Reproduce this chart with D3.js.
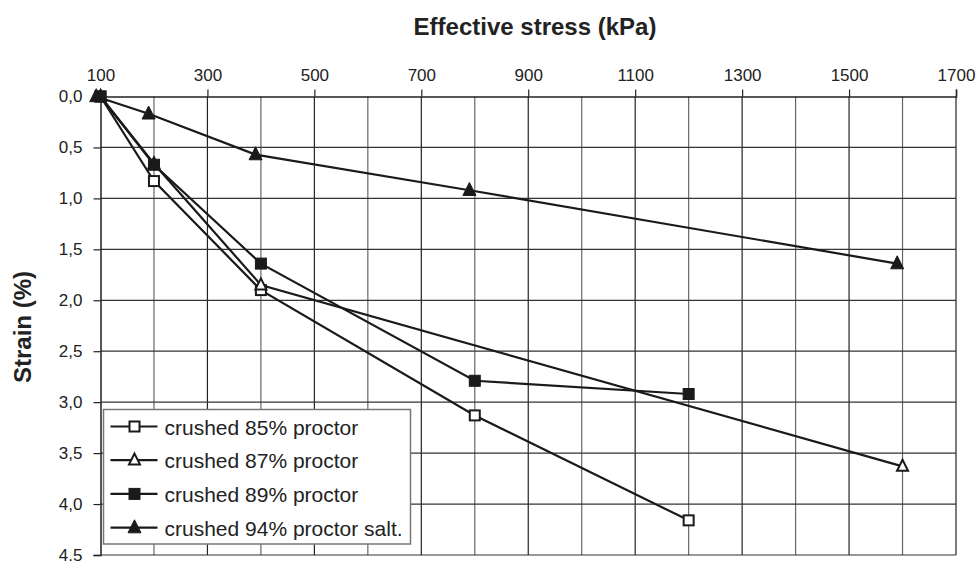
<!DOCTYPE html>
<html>
<head>
<meta charset="utf-8">
<script src="https://cdn.jsdelivr.net/npm/d3@7"></script>
<style>
  body { margin: 0; background: #fff; }
  svg { font-family: 'Liberation Sans', Arial, sans-serif; }
</style>
</head>
<body>
<div id="chart"></div>
<script>
// stress ticks (top axis) and strain ticks (left axis)
const stressTicks = [100, 300, 500, 700, 900, 1100, 1300, 1500, 1700];
const strainTicks = [0, 0.5, 1, 1.5, 2, 2.5, 3, 3.5, 4, 4.5];

const seriesNames = ['crushed 85% proctor', 'crushed 87% proctor', 'crushed 89% proctor', 'crushed 94% proctor salt.'];

const stress85 = [100, 200, 400, 800, 1200];
const strain85 = [0, 0.83, 1.9, 3.13, 4.16];

const stress87 = [100, 200, 400, 1600];
const strain87 = [0, 0.66, 1.85, 3.63];

const stress89 = [100, 200, 400, 800, 1200];
const strain89 = [0, 0.67, 1.64, 2.79, 2.92];

const stress94 = [92, 190, 390, 790, 1590];
const strain94 = [0, 0.17, 0.57, 0.92, 1.64];

const markers = ['openSquare', 'openTriangle', 'square', 'triangle'];

function renderChart() {
  const svg = d3.select('#chart')
    .append('svg')
    .attr('width', 978)
    .attr('height', 561);

  const x = d3.scaleLinear().domain([100, 1700]).range([100.5, 956]);
  const y = d3.scaleLinear().domain([0, 4.5]).range([96.5, 555]);

  // grid every 100 kPa and every 0.5 %
  svg.append('g')
    .selectAll('line')
    .data(d3.range(200, 1701, 100))
    .join('line')
    .attr('x1', d => x(d)).attr('x2', d => x(d))
    .attr('y1', y(0)).attr('y2', y(4.5))
    .attr('stroke', d => d % 200 === 0 ? '#666' : '#222')
    .attr('stroke-width', 1.2);

  svg.append('g')
    .selectAll('line')
    .data(strainTicks.slice(1))
    .join('line')
    .attr('x1', x(100)).attr('x2', x(1700))
    .attr('y1', d => y(d)).attr('y2', d => y(d))
    .attr('stroke', '#333')
    .attr('stroke-width', 1.2);

  // axes
  const topAxis = svg.append('g')
    .attr('transform', `translate(0, ${y(0)})`)
    .call(d3.axisTop(x).tickValues(stressTicks).tickSize(7).tickPadding(9).tickFormat(d3.format('d')));
  topAxis.select('.domain').attr('stroke', '#222').attr('stroke-width', 1.5);
  topAxis.selectAll('.tick line').attr('stroke', '#222').attr('stroke-width', 1.2);
  topAxis.selectAll('text').attr('font-size', '17px').attr('fill', '#222');

  const leftAxis = svg.append('g')
    .attr('transform', `translate(${x(100)}, 0)`)
    .call(d3.axisLeft(y).tickValues(strainTicks).tickSize(7).tickPadding(11)
      .tickFormat(d => d3.format('.1f')(d).replace('.', ',')));
  leftAxis.select('.domain').attr('stroke', '#222').attr('stroke-width', 1.5);
  leftAxis.selectAll('.tick line').attr('stroke', '#222').attr('stroke-width', 1.2);
  leftAxis.selectAll('text').attr('font-size', '17px').attr('fill', '#222');

  svg.append('text')
    .text('Effective stress (kPa)')
    .attr('x', 535)
    .attr('y', 35)
    .attr('text-anchor', 'middle')
    .attr('font-size', '24px')
    .attr('font-weight', 'bold')
    .attr('fill', '#222');

  svg.append('text')
    .text('Strain (%)')
    .attr('transform', 'translate(31, 327) rotate(-90)')
    .attr('text-anchor', 'middle')
    .attr('font-size', '24px')
    .attr('font-weight', 'bold')
    .attr('fill', '#222');

  const series = [
    {stress: stress85, strain: strain85},
    {stress: stress87, strain: strain87},
    {stress: stress89, strain: strain89},
    {stress: stress94, strain: strain94}
  ];

  const line = d3.line()
    .x(d => x(d[0]))
    .y(d => y(d[1]));

  series.forEach((s, i) => {
    const pts = s.stress.map((v, j) => [v, s.strain[j]]);
    svg.append('path')
      .datum(pts)
      .attr('d', line)
      .attr('fill', 'none')
      .attr('stroke', '#1a1a1a')
      .attr('stroke-width', 2.2);
  });

  series.forEach((s, i) => {
    s.stress.forEach((v, j) => {
      drawMarker(svg, markers[i], x(v), y(s.strain[j]));
    });
  });

  // legend
  const legend = svg.append('g')
    .attr('transform', 'translate(103.5, 409.5)');

  legend.append('rect')
    .attr('width', 307)
    .attr('height', 134.5)
    .attr('fill', '#fff')
    .attr('stroke', '#777')
    .attr('stroke-width', 1.5);

  seriesNames.forEach((name, i) => {
    const row = legend.append('g')
      .attr('transform', `translate(0, ${17 + i * 33.7})`);

    row.append('line')
      .attr('x1', 7).attr('x2', 54)
      .attr('stroke', '#1a1a1a')
      .attr('stroke-width', 2.2);

    drawMarker(row, markers[i], 31, 0);

    row.append('text')
      .text(name)
      .attr('x', 61)
      .attr('y', 8)
      .attr('font-size', '21px')
      .attr('fill', '#222');
  });
}

function drawMarker(g, type, cx, cy) {
  if (type === 'openSquare' || type === 'square') {
    const open = type === 'openSquare';
    const size = open ? 10 : 11;
    g.append('rect')
      .attr('x', cx - size / 2)
      .attr('y', cy - size / 2)
      .attr('width', size)
      .attr('height', size)
      .attr('fill', open ? '#fff' : '#1a1a1a')
      .attr('stroke', '#1a1a1a')
      .attr('stroke-width', open ? 2 : 1);
  } else {
    const open = type === 'openTriangle';
    const h = open ? 11 : 13;
    const w = open ? 11 : 13;
    g.append('path')
      .attr('d', `M${cx},${cy - h * 0.6} L${cx + w / 2},${cy + h * 0.4} L${cx - w / 2},${cy + h * 0.4} Z`)
      .attr('fill', open ? '#fff' : '#1a1a1a')
      .attr('stroke', '#1a1a1a')
      .attr('stroke-width', open ? 2 : 1);
  }
}

renderChart();
</script>
</body>
</html>
